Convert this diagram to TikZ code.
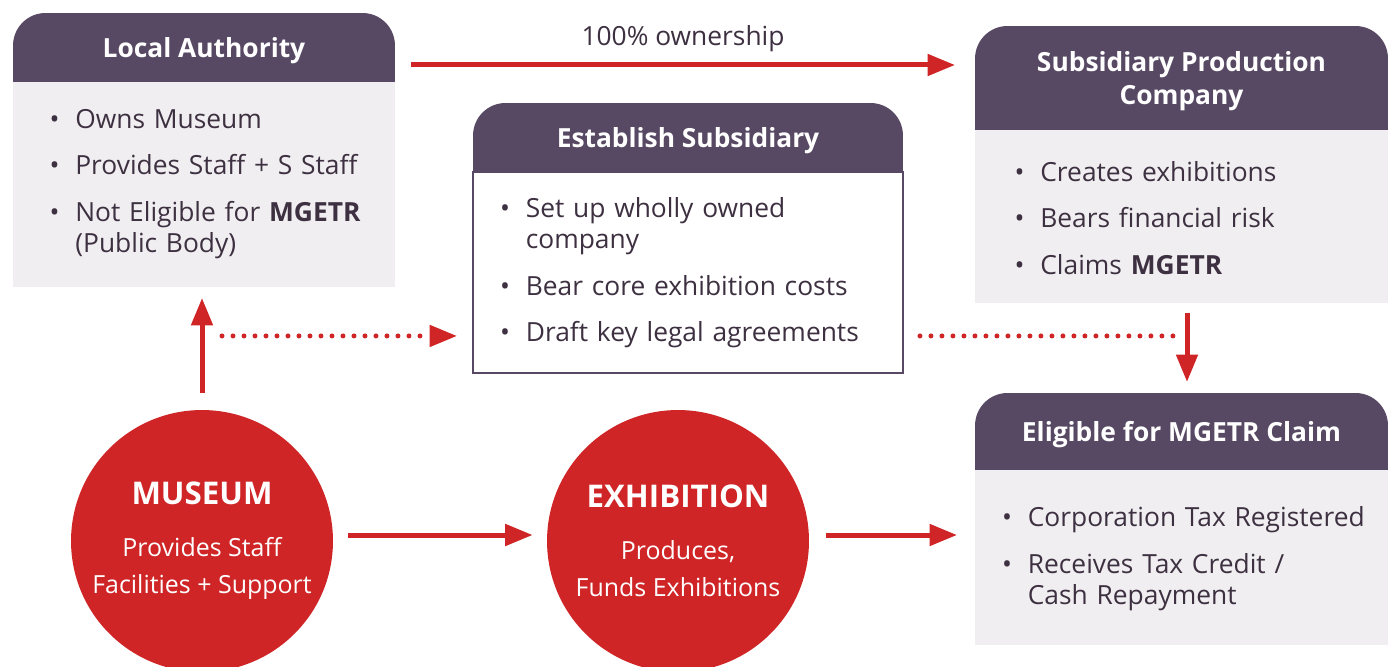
\documentclass[tikz,border=0pt]{standalone}
\usepackage{fontspec}
\setmainfont{Open Sans}
\usepackage{enumitem}
\usetikzlibrary{arrows.meta, positioning, calc, backgrounds}

\definecolor{plum}{HTML}{574963}
\definecolor{mist}{HTML}{F0EEF1}
\definecolor{alarm}{HTML}{CF2527}
\definecolor{ink}{HTML}{3D3040}

\setlist[itemize]{label=\textbullet, leftmargin=1.15em, labelsep=0.6em, itemsep=9pt, parsep=0pt, topsep=0pt, partopsep=0pt}

\begin{document}
\begin{tikzpicture}[x=0.02cm, y=-0.02cm,
    head/.style={rectangle, fill=plum, rounded corners=0.65cm, text=white, font=\fontsize{15}{18.5}\selectfont\bfseries, align=center, text depth=0pt, minimum width=#1, inner sep=0pt, outer sep=0pt},
    card/.style={rectangle, fill=mist, text=ink, font=\fontsize{15}{17.6}\selectfont, text width=#1, inner xsep=0.7cm, inner ysep=0pt, outer sep=0pt},
    disc/.style={circle, fill=alarm, text=white, minimum size=5.24cm, inner sep=0pt, align=center, font=\fontsize{14.2}{21}\selectfont},
    arrow/.style={alarm, line width=0.1cm, -{Triangle[length=0.55cm, width=0.42cm]}},
    dots/.style={alarm, line width=0.1cm, line cap=round, dash pattern=on 0pt off 0.22cm},
    dotarrow/.style={dots, -{Triangle[length=0.55cm, width=0.42cm]}}]

    \useasboundingbox (0,0) rectangle (1388,666);

    % owner
    \node [head=7.64cm, minimum height=1.38cm, anchor=north] (lahead) at (204,13) {Local Authority};
    \node [card=6.36cm, inner xsep=0.64cm, minimum height=4.1cm, below=0pt of lahead] (labody) {
        \begin{itemize}
            \item Owns Museum
            \item Provides Staff + S Staff
            \item Not Eligible for \textbf{MGETR}\\(Public Body)
        \end{itemize}\vspace{0.26cm}};

    % setup step
    \node [head=8.6cm, minimum height=1.38cm, anchor=north] (eshead) at (688,103) {Establish Subsidiary};
    \node [card=7.7cm, inner xsep=0.45cm, fill=white, draw=plum, line width=1.2pt, minimum height=4.02cm, below=0pt of eshead] (esbody) {
        \begin{itemize}
            \item Set up wholly owned\\company
            \item Bear core exhibition costs
            \item Draft key legal agreements
        \end{itemize}\vspace{0.2cm}};

    % subsidiary
    \node [head=8.26cm, minimum height=2.08cm, anchor=north] (spchead) at (1181.5,26) {Subsidiary Production\\Company};
    \node [card=6.86cm, minimum height=3.46cm, below=0pt of spchead] (spcbody) {
        \begin{itemize}
            \item Creates exhibitions
            \item Bears financial risk
            \item Claims \textbf{MGETR}
        \end{itemize}\vspace{0.16cm}};

    % claim
    \node [head=8.26cm, minimum height=1.54cm, anchor=north] (elhead) at (1181.5,393) {Eligible for MGETR Claim};
    \node [card=7.36cm, inner xsep=0.45cm, minimum height=3.5cm, below=0pt of elhead] (elbody) {
        \begin{itemize}
            \item Corporation Tax Registered
            \item Receives Tax Credit /\\Cash Repayment
        \end{itemize}\vspace{0.16cm}};

    % square off the lower corners of the headers
    \begin{scope}[on background layer]
        \foreach \h in {lahead, eshead, spchead, elhead}
            \fill [plum] (\h.west) rectangle (\h.south east);
    \end{scope}

    % red circles
    \node [disc] (museum) at (202,541) {{\fontsize{17.8}{20}\selectfont\bfseries MUSEUM}\\[0.3cm]Provides Staff\\Facilities + Support};
    \node [disc] (exhib) at (678,541) {{\fontsize{17.8}{20}\selectfont\bfseries EXHIBITION}\\[0.3cm]Produces,\\Funds Exhibitions};

    % connectors
    \coordinate (own) at ([xshift=0.32cm, yshift=-0.35cm]lahead.east);
    \draw [arrow] (own) -- ($(spchead.west |- own)+(-20,0)$)
        node [midway, above=0.1cm, text=ink, font=\fontsize{15}{17}\selectfont] {100\% ownership};

    \draw [arrow] ([yshift=0.34cm]museum.north) -- ([yshift=-0.22cm]museum.north |- labody.south);

    \coordinate (dl) at ([xshift=-0.32cm, yshift=0.74cm]esbody.south west);
    \draw [dotarrow] ($(museum.north |- dl)+(20,0)$) -- (dl);

    \coordinate (dr) at ([xshift=0.34cm, yshift=0.74cm]esbody.south east);
    \draw [dots] (dr) -- ($(spcbody.south |- dr)+(-8,0)$);
    \draw [arrow] ([xshift=0.11cm, yshift=-0.2cm]spcbody.south) -- ([xshift=0.11cm, yshift=0.22cm]elhead.north);

    \draw [arrow] ([xshift=0.3cm, yshift=0.12cm]museum.east) -- ([xshift=-0.28cm, yshift=0.12cm]exhib.west);
    \coordinate (ex) at ([xshift=0.34cm, yshift=0.12cm]exhib.east);
    \draw [arrow] (ex) -- ($(elbody.west |- ex)+(-18,0)$);
\end{tikzpicture}
\end{document}
